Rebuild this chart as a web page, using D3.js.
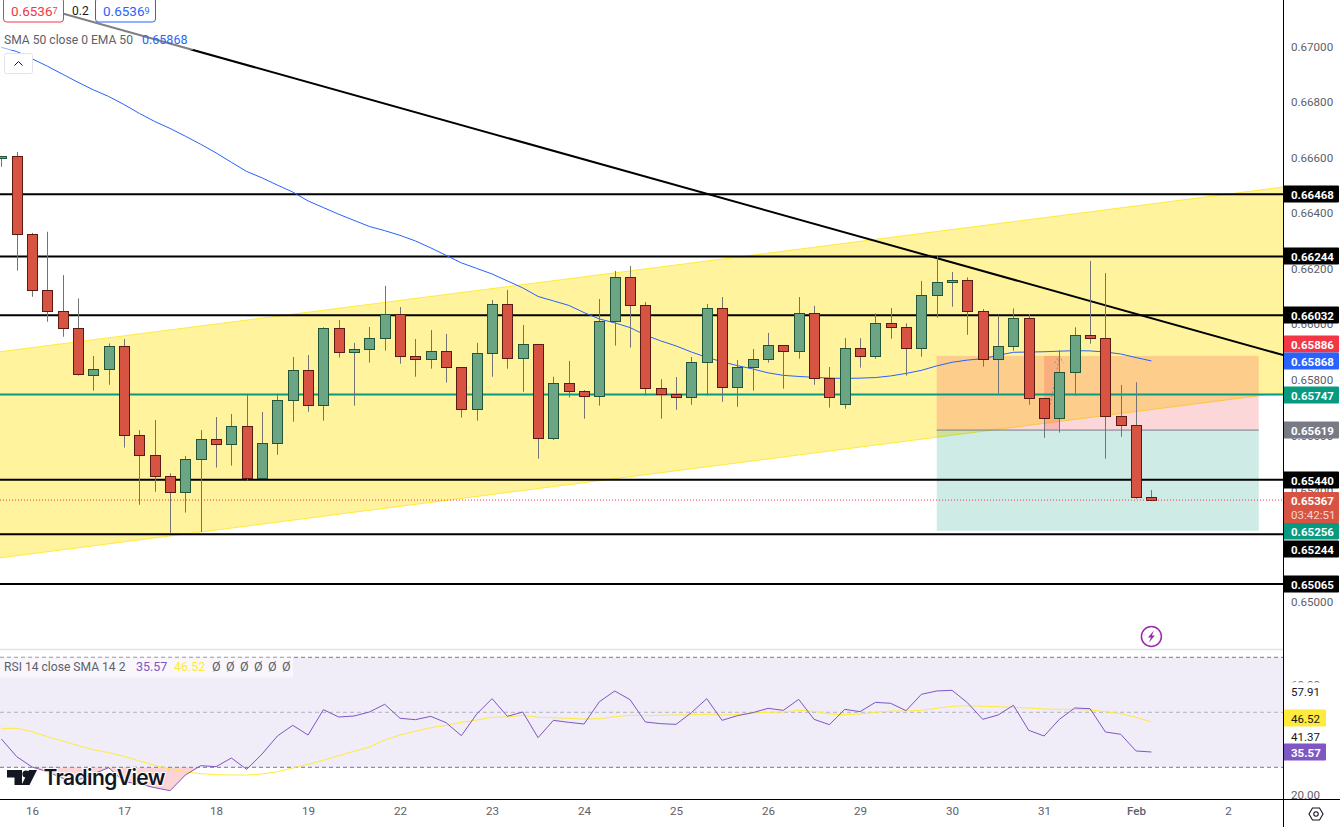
<!DOCTYPE html>
<html>
<head>
<meta charset="utf-8">
<script src="https://d3js.org/d3.v7.min.js"></script>
<style>
  html, body { margin: 0; background: #fff; }
  svg { display: block; }
  text { font-family: Roboto, sans-serif; }
</style>
</head>
<body>
<script>
// prices are in 1/100000, so 65367 is 0.65367
const opens = [66597,66606,66324,66122,66047,65985,65818,65838,65921,65600,65528,65453,65395,65514,65586,65568,65633,65445,65571,65726,
  65834,65708,65985,65899,65910,65949,66036,65885,65874,65903,65845,65694,65895,66072,65877,65928,65589,65787,65759,65741,
  66011,66169,66068,65769,65748,65737,65863,66057,65773,65845,65874,65924,65903,66039,65805,65712,65913,65885,66003,65989,
  65913,66104,66151,66158,66047,65874,65921,66021,65733,65661,65827,65960,65949,65669,65636,65377];
const highs = [66606,66620,66329,66333,66177,66093,65886,65931,65947,65619,65655,65463,65526,65619,65666,65677,65745,65684,65745,65882,
  65889,65989,66015,65933,65990,66138,66062,65947,65979,65965,65845,65933,66087,66123,65997,65928,65811,65868,65763,66091,
  66192,66210,66080,65802,65810,65882,66073,66098,65871,65911,65969,65924,66098,66066,65846,65950,65950,66039,66058,66003,
  66156,66246,66188,66169,66055,66032,66057,66037,65733,65907,65989,66228,66184,65781,65791,65403];
const lows = [66567,66193,66099,66009,65955,65815,65761,65782,65556,65350,65397,65247,65322,65252,65484,65491,65437,65445,65530,65649,
  65685,65653,65880,65707,65862,65905,65858,65811,65840,65790,65664,65653,65811,65840,65757,65516,65583,65736,65660,65707,
  65923,65916,65743,65660,65692,65710,65743,65721,65703,65761,65862,65768,65876,65782,65700,65696,65844,65876,65948,65815,
  65883,66024,66063,65962,65847,65751,65905,65710,65591,65610,65743,65930,65516,65595,65372,65367];
const closes = [66606,66324,66122,66047,65985,65820,65838,65921,65600,65528,65453,65395,65514,65586,65568,65633,65445,65571,65726,65834,
  65708,65985,65899,65910,65949,66036,65885,65874,65903,65845,65694,65895,66072,65877,65928,65589,65787,65759,65741,66011,
  66169,66068,65769,65748,65737,65863,66057,65773,65845,65874,65924,65903,66039,65805,65737,65913,65885,66003,65989,65913,
  66104,66151,66158,66047,65874,65921,66021,65733,65661,65827,65960,65949,65669,65636,65377,65367];
const ema50 = [66997,66982,66956,66929,66900,66871,66844,66820,66791,66759,66730,66705,66677,66648,66617,66583,66550,66527,66501,66476,
  66444,66420,66396,66374,66352,66337,66320,66300,66275,66248,66221,66201,66181,66156,66131,66100,66084,66068,66042,66019,
  66005,65988,65961,65940,65922,65900,65881,65865,65851,65839,65825,65816,65812,65809,65806,65805,65806,65808,65814,65823,
  65834,65850,65863,65871,65876,65888,65899,65900,65901,65903,65905,65904,65900,65893,65880,65868];
const rsi = [40.29,33.87,30.11,28.41,25.99,25.38,27.56,29.87,24.77,23.93,22.59,21.5,27.2,30.59,30.23,33.38,29.26,34.84,41.38,45.26,
  41.74,50.96,48.29,48.65,50.11,52.9,47.81,47.32,48.53,46.23,41.5,49.38,54.96,48.53,50.11,40.77,47.08,46.35,45.74,53.87,
  57.74,54.59,46.47,45.87,45.62,49.87,54.96,47.08,48.77,49.87,51.44,50.71,54.71,47.44,45.5,51.08,50.23,53.62,53.26,50.59,
  56.55,57.75,58.0,53.49,47.45,49.02,52.55,43.45,41.38,47.45,51.56,51.31,42.84,42.0,35.93,35.57];
const rsiSma = [44.17,44.17,42.96,41.14,39.56,37.87,36.41,35.32,33.99,32.29,30.71,29.38,28.29,27.69,27.32,27.2,27.2,27.56,28.41,29.74,
  31.08,32.53,34.23,35.81,37.38,39.93,41.74,43.08,44.41,45.26,46.35,47.2,48.17,48.29,48.9,48.17,48.05,47.81,47.56,47.68,
  48.41,48.9,48.77,48.9,49.02,49.14,49.14,49.02,49.14,49.74,49.99,50.11,50.71,50.35,49.38,49.14,49.38,49.99,50.47,50.47,
  50.71,51.44,52.17,52.41,52.17,52.04,51.8,51.56,51.2,51.08,51.08,50.83,50.23,49.5,48.17,46.52];

const dayBars = [2,8,14,20,26,32,38,44,50,56,62,68,74,80];
const dayLabels = ["16","17","18","19","22","23","24","25","26","29","30","31","Feb","2"];
const priceTicks = [67000,66800,66600,66400,66200,66000,65800,65600,65400,65200,65000];
const rsiTicks = [60,20];
const rsiBands = [70,50,30];

const levels = [66468,66244,66032,65440,65244,65065];
const supportLevel = 65747;
const lastPrice = 65367;
const channelBars = [-0.09,83.6];
const channelUpper = [65901,66494];
const channelLower = [65159,65754];
const trendBars = [-0.09,83.6];
const trendPrices = [67182,65889];
const positionBars = [61,82];
const positionPrices = [65886,65619,65256];
const innerBars = [68,69];

// axis tags: value, colour of the tag, text colour
const priceTags = [
  {v:66468,bg:"#000",fg:"#fff"},{v:66244,bg:"#000",fg:"#fff"},{v:66032,bg:"#000",fg:"#fff"},
  {v:65886,bg:"#f23645",fg:"#fff",nudge:-12},{v:65868,bg:"#2962ff",fg:"#fff"},{v:65747,bg:"#089981",fg:"#fff"},
  {v:65619,bg:"#787b86",fg:"#fff"},{v:65440,bg:"#000",fg:"#fff"},{v:65256,bg:"#089981",fg:"#fff"},
  {v:65244,bg:"#000",fg:"#fff",nudge:15},{v:65065,bg:"#000",fg:"#fff"}
];
const rsiTags = [
  {v:57.91,bg:"#fff",fg:"#131722"},{v:46.52,bg:"#ffeb3b",fg:"#131722",nudge:-3.5},
  {v:41.37,bg:"#fff",fg:"#131722"},{v:35.57,bg:"#7e57c2",fg:"#fff"}
];

const width = 1340, height = 827;
const axisX = 1283, paneBottom = 649, timeY = 799;

const x = d3.scaleLinear().domain([0,75]).range([1.4,1151.4]);
const y = d3.scaleLinear().domain([65000,67000]).range([602,46.5]);
const yRsi = d3.scaleLinear().domain([20,70]).range([794.8,657.3]);
const bars = d3.range(opens.length);

const svg = d3.select("body").append("svg")
    .attr("width",width).attr("height",height).attr("viewBox",[0,0,width,height]);

const defs = svg.append("defs");
defs.append("clipPath").attr("id","main").append("rect").attr("width",axisX).attr("height",paneBottom);
defs.append("clipPath").attr("id","oversold").append("rect")
    .attr("y",yRsi(30)).attr("width",axisX).attr("height",timeY-yRsi(30));

const main = svg.append("g").attr("clip-path","url(#main)");

// channel
main.append("path")
    .datum(channelBars)
    .attr("fill","#fff39d")
    .attr("d",d3.area().x(d=>x(d)).y0((d,i)=>y(channelLower[i])).y1((d,i)=>y(channelUpper[i])));
[channelUpper,channelLower].forEach(prices => {
  main.append("line")
      .attr("x1",x(channelBars[0])).attr("x2",x(channelBars[1]))
      .attr("y1",y(prices[0])).attr("y2",y(prices[1]))
      .attr("stroke","#ffeb3b").attr("stroke-width",1);
});

// long/short position box
const posX0 = x(positionBars[0]), posX1 = x(positionBars[1]);
main.append("rect").attr("x",posX0).attr("width",posX1-posX0)
    .attr("y",y(positionPrices[0])).attr("height",y(positionPrices[1])-y(positionPrices[0]))
    .attr("fill","#f23645").attr("fill-opacity",0.2);
main.append("rect").attr("x",posX0).attr("width",posX1-posX0)
    .attr("y",y(positionPrices[1])).attr("height",y(positionPrices[2])-y(positionPrices[1]))
    .attr("fill","#089981").attr("fill-opacity",0.2);
main.append("rect").attr("x",x(innerBars[0])).attr("width",x(innerBars[1])-x(innerBars[0]))
    .attr("y",y(positionPrices[0])).attr("height",y(positionPrices[1])-y(positionPrices[0]))
    .attr("fill","#f23645").attr("fill-opacity",0.2);
main.append("line").attr("x1",posX0).attr("x2",posX1)
    .attr("y1",y(positionPrices[1])).attr("y2",y(positionPrices[1]))
    .attr("stroke","#787b86").attr("stroke-width",1);
// faded arrow of the position tool
main.append("path")
    .attr("d",`M${x(68.4)},${y(65710)}L${x(69)},${y(65880)}M${x(68.7)},${y(65860)}L${x(69)},${y(65886)}L${x(69.25)},${y(65860)}`)
    .attr("fill","none").attr("stroke","#787b86").attr("stroke-width",1)
    .attr("stroke-dasharray","2 2").attr("stroke-opacity",0.7);

// horizontal levels
main.selectAll("line.level").data(levels).join("line").attr("class","level")
    .attr("x1",0).attr("x2",axisX)
    .attr("y1",d=>y(d)).attr("y2",d=>y(d))
    .attr("stroke","#000").attr("stroke-width",2);
main.append("line")
    .attr("x1",0).attr("x2",axisX).attr("y1",y(supportLevel)).attr("y2",y(supportLevel))
    .attr("stroke","#089981").attr("stroke-width",2);

// falling trend line
main.append("line")
    .attr("x1",x(trendBars[0])).attr("x2",x(trendBars[1]))
    .attr("y1",y(trendPrices[0])).attr("y2",y(trendPrices[1]))
    .attr("stroke","#000").attr("stroke-width",2);

// EMA 50
main.append("path").datum(ema50)
    .attr("fill","none").attr("stroke","#2962ff").attr("stroke-width",1)
    .attr("d",d3.line().x((d,i)=>x(i)).y(d=>y(d)));

// candles
const candle = main.append("g").selectAll("g").data(bars).join("g")
    .attr("transform",i=>`translate(${Math.round(x(i))},0)`);
candle.append("line")
    .attr("x1",0.5).attr("x2",0.5)
    .attr("y1",i=>y(highs[i])).attr("y2",i=>y(lows[i]))
    .attr("stroke","#737375").attr("stroke-width",1);
candle.append("rect")
    .attr("x",-4.5).attr("width",10)
    .attr("y",i=>Math.round(y(Math.max(opens[i],closes[i])))+0.5)
    .attr("height",i=>Math.max(1,Math.round(Math.abs(y(opens[i])-y(closes[i])))))
    .attr("fill",i=>closes[i]>=opens[i]?"#6ba583":"#d75442")
    .attr("stroke",i=>closes[i]>=opens[i]?"#225437":"#5b1a13")
    .attr("stroke-width",1);

// last price line
main.append("line")
    .attr("x1",0).attr("x2",axisX).attr("y1",y(lastPrice)).attr("y2",y(lastPrice))
    .attr("stroke","#f23645").attr("stroke-width",1).attr("stroke-dasharray","1 2");

// legend, sits over the trend line with a see-through backing
const legend = svg.append("g");
legend.append("rect").attr("width",193).attr("height",50).attr("fill","#fff").attr("fill-opacity",0.5);
legend.append("rect").attr("x",3.5).attr("y",-2).attr("width",60).attr("height",24).attr("rx",3)
    .attr("fill","#fff").attr("stroke","#f23645");
legend.append("rect").attr("x",95.5).attr("y",-2).attr("width",60).attr("height",24).attr("rx",3)
    .attr("fill","#fff").attr("stroke","#2962ff");
const legendText = (px,py,color,parts) => {
  const t = legend.append("text").attr("x",px).attr("y",py).attr("fill",color);
  parts.forEach(p => t.append("tspan").attr("font-size",p[1]).attr("dy",p[2]||0).text(p[0]));
};
legendText(11,16,"#f23645",[["0.6536",13.5],["7",9,-2]]);
legendText(72,15,"#131722",[["0.2",12]]);
legendText(103,16,"#2962ff",[["0.6536",13.5],["9",9,-2]]);
legendText(4,44,"#5d606b",[["SMA 50 close 0 EMA 50",12.1]]);
legendText(142,44,"#2962ff",[["0.65868",12.5]]);
legend.append("rect").attr("x",4.5).attr("y",53.5).attr("width",28).attr("height",20).attr("rx",2)
    .attr("fill","#fff").attr("stroke","#e0e3eb");
legend.append("path").attr("d","M14.5,65.5L18.5,61.5L22.5,65.5")
    .attr("fill","none").attr("stroke","#131722").attr("stroke-width",1);

// earnings style marker
const bolt = svg.append("g").attr("transform",`translate(${x(75)},636.5)`);
bolt.append("circle").attr("r",10).attr("fill","#fff").attr("stroke","#9c27b0").attr("stroke-width",1.5);
bolt.append("path").attr("d","M2.5,-6L-3.5,1L-0.5,1L-2.5,6L3.5,-1L0.5,-1Z").attr("fill","#9c27b0");

// pane separator
svg.append("line").attr("x1",0).attr("x2",width).attr("y1",paneBottom+0.5).attr("y2",paneBottom+0.5)
    .attr("stroke","#e0e3eb").attr("stroke-width",1.5);

// RSI pane
const rsiPane = svg.append("g");
rsiPane.append("rect").attr("y",yRsi(70)).attr("width",axisX).attr("height",yRsi(30)-yRsi(70))
    .attr("fill","#f0ecf8");
rsiPane.selectAll("line").data(rsiBands).join("line")
    .attr("x1",0).attr("x2",axisX).attr("y1",d=>yRsi(d)).attr("y2",d=>yRsi(d))
    .attr("stroke","#787b86").attr("stroke-opacity",d=>d===50?0.5:1).attr("stroke-dasharray","4 3");
rsiPane.append("path").datum(rsi).attr("clip-path","url(#oversold)")
    .attr("fill","#f23645").attr("fill-opacity",0.22)
    .attr("d",d3.area().x((d,i)=>x(i)).y0(yRsi(30)).y1(d=>yRsi(d)));
rsiPane.append("path").datum(rsiSma).attr("fill","none").attr("stroke","#ffeb3b").attr("stroke-width",1)
    .attr("d",d3.line().x((d,i)=>x(i)).y(d=>yRsi(d)));
rsiPane.append("path").datum(rsi).attr("fill","none").attr("stroke","#7e57c2").attr("stroke-width",1)
    .attr("d",d3.line().x((d,i)=>x(i)).y(d=>yRsi(d)));

// RSI legend
rsiPane.append("rect").attr("y",657.5).attr("width",293).attr("height",20).attr("fill","#fff").attr("fill-opacity",0.6);
[["RSI 14 close SMA 14 2",4,"#5d606b",12.1],["35.57",136,"#7e57c2",12.5],["46.52",174,"#ffeb3b",12.5],
 ["Ø",212,"#5d606b",12.5],["Ø",226,"#5d606b",12.5],["Ø",240,"#5d606b",12.5],["Ø",254,"#5d606b",12.5],["Ø",268,"#5d606b",12.5],["Ø",282,"#5d606b",12.5]]
  .forEach(d => rsiPane.append("text").attr("x",d[1]).attr("y",671).attr("fill",d[2]).attr("font-size",d[3]).text(d[0]));

// logo
const logo = svg.append("g").attr("transform","translate(7,770)");
logo.append("path").attr("fill","#131722").attr("stroke","#fff").attr("stroke-width",2).attr("paint-order","stroke")
    .attr("d","M0,0H15V15H7.5V7.5H0Z");
logo.append("circle").attr("cx",19).attr("cy",4).attr("r",3.6).attr("fill","#131722");
logo.append("path").attr("fill","#131722").attr("d","M30,0L22.5,15H14.5L22,0Z");
logo.append("text").attr("x",36.5).attr("y",15).attr("font-size",21).attr("font-weight",600).attr("letter-spacing",-0.6)
    .attr("fill","#131722").attr("stroke","#fff").attr("stroke-width",2).attr("paint-order","stroke")
    .style("font-family","Inter, sans-serif").text("TradingView");

// axes
svg.append("rect").attr("x",axisX).attr("width",width-axisX).attr("height",height).attr("fill","#fff");
svg.append("rect").attr("y",timeY).attr("width",axisX).attr("height",height-timeY).attr("fill","#fff");

const priceAxis = svg.append("g").attr("transform",`translate(${axisX},0)`)
    .call(d3.axisRight(y).tickValues(priceTicks).tickSize(0).tickPadding(8).tickFormat(d=>(d/1e5).toFixed(5)));
priceAxis.select(".domain").remove();
const rsiAxis = svg.append("g").attr("transform",`translate(${axisX},0)`)
    .call(d3.axisRight(yRsi).tickValues(rsiTicks).tickSize(0).tickPadding(8).tickFormat(d=>d.toFixed(2)));
rsiAxis.select(".domain").remove();
const timeAxis = svg.append("g").attr("transform",`translate(0,${timeY})`)
    .call(d3.axisBottom(x).tickValues(dayBars).tickSize(0).tickPadding(8)
        .tickFormat((d,i)=>dayLabels[i]));
timeAxis.select(".domain").remove();
[priceAxis,rsiAxis,timeAxis].forEach(g => g.selectAll("text")
    .attr("fill","#5d606b").attr("font-size",11.6).style("font-family","Roboto, sans-serif"));
timeAxis.selectAll("text").filter((d,i)=>dayLabels[i]==="Feb").attr("font-weight",500);

// tags on the axes
const tag = (g,scale,d,digits,w) => {
  const cy = Math.round(scale(d.v)+(d.nudge||0));
  g.append("rect").attr("x",axisX).attr("y",cy-8.5).attr("width",w).attr("height",17).attr("rx",1).attr("fill",d.bg);
  g.append("text").attr("x",axisX+8).attr("y",cy+4.5).attr("fill",d.fg).attr("font-size",11.5)
      .attr("font-weight",d.bg==="#fff"||d.bg==="#ffeb3b"?400:700)
      .text(digits(d.v));
};
const tagLayer = svg.append("g");
priceTags.forEach(d => tag(tagLayer,y,d,v=>(v/1e5).toFixed(5),56));
rsiTags.forEach(d => tag(tagLayer,yRsi,d,v=>v.toFixed(2),43));

// last price tag with the bar countdown
const lastY = Math.round(y(lastPrice));
tagLayer.append("rect").attr("x",axisX).attr("y",lastY-8).attr("width",56).attr("height",31).attr("rx",1).attr("fill","#d75442");
tagLayer.append("text").attr("x",axisX+8).attr("y",lastY+5).attr("fill","#fff").attr("font-size",11.5).attr("font-weight",700)
    .text((lastPrice/1e5).toFixed(5));
tagLayer.append("text").attr("x",axisX+8).attr("y",lastY+19).attr("fill","#fbd5d0").attr("font-size",11.5)
    .text("03:42:51");

// frame lines and settings icon
svg.append("line").attr("x1",axisX+0.5).attr("x2",axisX+0.5).attr("y1",0).attr("y2",height)
    .attr("stroke","#000").attr("stroke-width",1);
svg.append("line").attr("x1",0).attr("x2",width).attr("y1",timeY+0.5).attr("y2",timeY+0.5)
    .attr("stroke","#000").attr("stroke-width",1);
const gear = svg.append("g").attr("transform","translate(1316,814)")
    .attr("fill","none").attr("stroke","#131722").attr("stroke-width",1.1);
gear.append("path").attr("d","M-7,0L-3.5,-6H3.5L7,0L3.5,6H-3.5Z");
gear.append("circle").attr("r",2.2);
</script>
</body>
</html>
